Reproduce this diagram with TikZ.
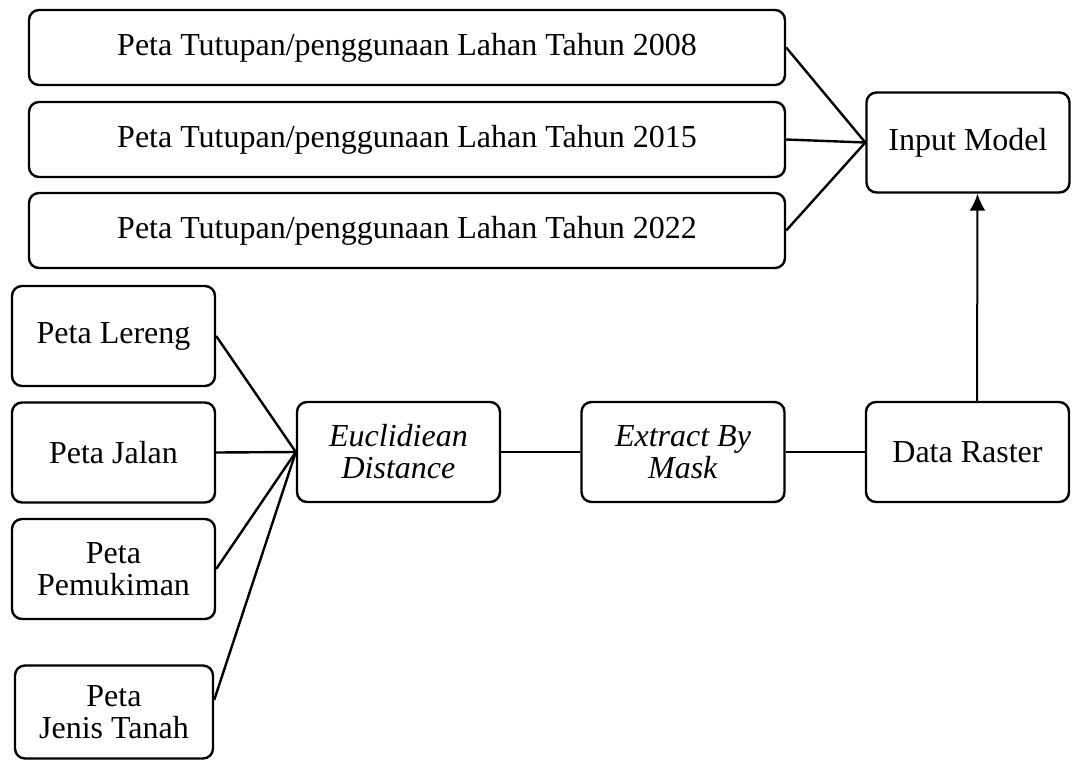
\documentclass[tikz,border=0pt]{standalone}
\usepackage{fontspec}
\setmainfont{Liberation Serif}
\usetikzlibrary{arrows.meta}
\tikzset{
  box/.style={draw, rounded corners=5pt, line width=1.2pt, align=center,
    inner sep=0pt, font=\fontsize{16}{16}\selectfont},
  small/.style={box, minimum width=101.5pt, minimum height=50pt},
  wide/.style={box, minimum width=378pt, minimum height=37.5pt},
  link/.style={line width=1.2pt}
}
\begin{document}
\begin{tikzpicture}[x=0.5pt,y=-0.5pt]
      \useasboundingbox (0,0) rectangle (1075,760);
      % peta tutupan lahan
      \node[wide] (lahanA) at (407,47.5) {Peta Tutupan/penggunaan Lahan Tahun 2008};
      \node[wide] (lahanB) at (407,139.5) {Peta Tutupan/penggunaan Lahan Tahun 2015};
      \node[wide] (lahanC) at (407,230.5) {Peta Tutupan/penggunaan Lahan Tahun 2022};
      \node[small] (input) at (968,142.5) {Input Model};
      % peta faktor
      \node[small] (lereng) at (113.5,336) {Peta Lereng};
      \node[small] (jalan) at (113.5,452.5) {Peta Jalan};
      \node[small] (pemukiman) at (113.5,569) {Peta\\Pemukiman};
      \node[small, minimum width=99pt, minimum height=46.5pt] (tanah) at (114,712) {Peta\\Jenis Tanah};
      \node[small] (euclid) at (398.5,452) {\textit{Euclidiean}\\\textit{Distance}};
      \node[small] (extract) at (683,452) {\textit{Extract By}\\\textit{Mask}};
      \node[small] (raster) at (967.5,452) {Data Raster};
      \foreach \n in {lahanA,lahanB,lahanC}
        \draw[link] (\n.east) -- (input.west);
      \foreach \n in {lereng,jalan,pemukiman}
        \draw[link] (\n.east) -- (euclid.west);
      \draw[link] ([yshift=6pt]tanah.east) -- (euclid.west);
      \draw[link] (euclid) -- (extract);
      \draw[link] (extract) -- (raster);
      \draw[link, line width=1pt, -{Latex[length=8.5pt,width=8pt]}] ([xshift=4.75pt]raster.north) -- ([xshift=4.75pt]input.south);
    \end{tikzpicture}
\end{document}
